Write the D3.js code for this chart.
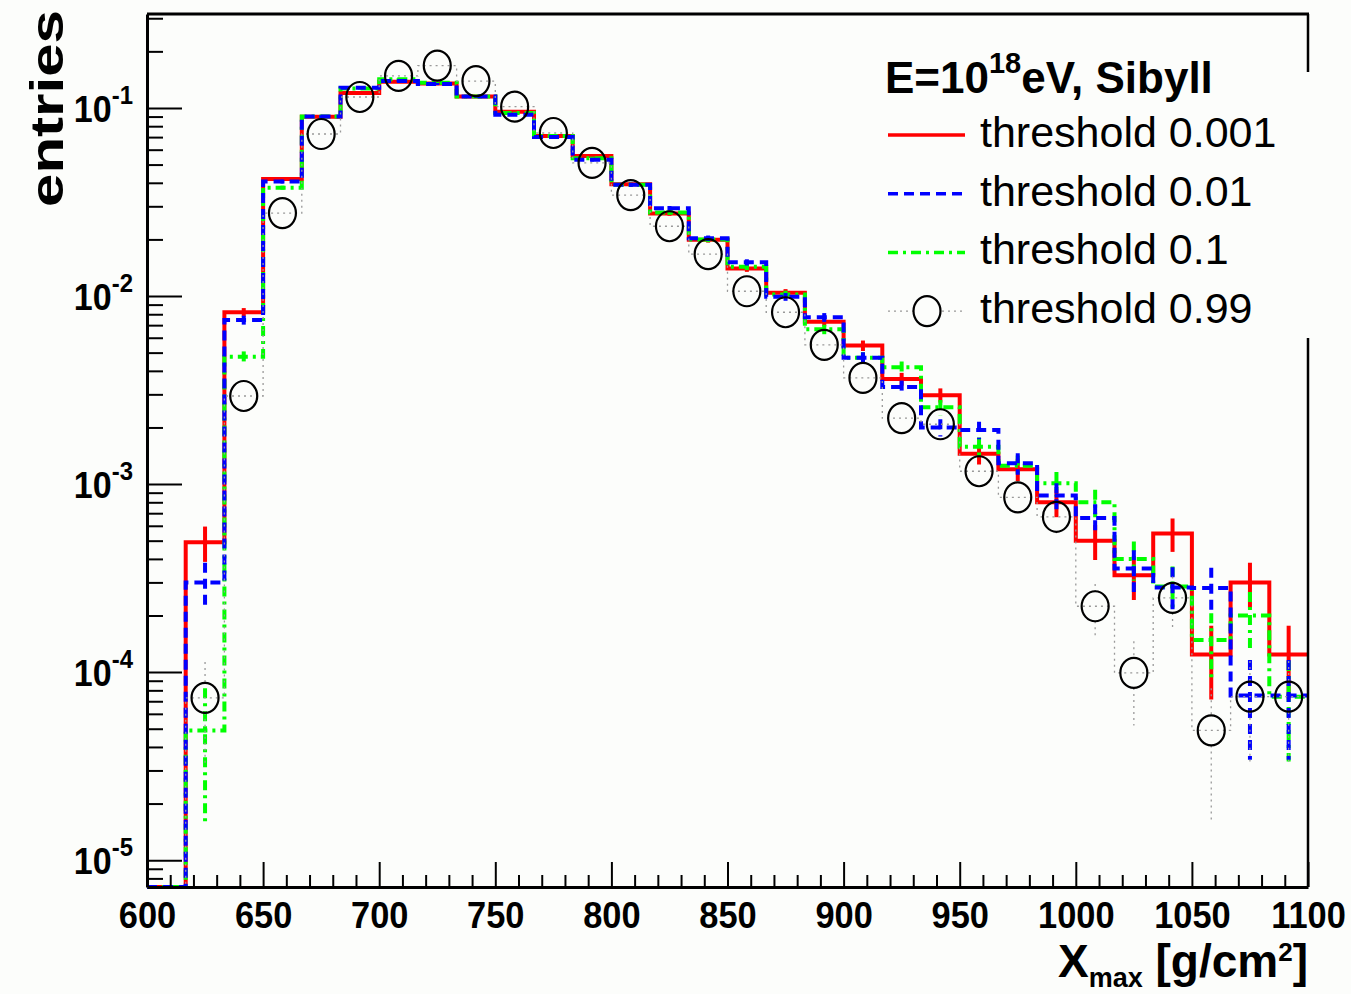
<!DOCTYPE html>
<html>
<head>
<meta charset="utf-8">
<script src="https://cdn.jsdelivr.net/npm/d3@7"></script>
<style>
body { margin: 0; background: #fcfdfb; }
svg { display: block; font-family: "Liberation Sans", Arial, Helvetica, sans-serif; }
</style>
</head>
<body>
<div id="viz"></div>
<script>
// histogram binning: 30 bins between 600 and 1100 g/cm2
const binLow = 600, binHigh = 1100, nBins = 30;
const xLabels = [600, 650, 700, 750, 800, 850, 900, 950, 1000, 1050, 1100];
const yDecades = [-5, -4, -3, -2, -1];
// normalised entries (0 = empty bin)
const thr0001 = [0, 4.9e-4, 8.2e-3, 0.0419, 0.0899, 0.120, 0.138, 0.135, 0.115, 0.0956,
  0.071, 0.0556, 0.0393, 0.0275, 0.0199, 0.0140, 0.0104, 0.0073, 0.00545, 0.00362,
  0.00297, 0.00145, 0.0012, 0.0008, 5.0e-4, 3.27e-4, 5.46e-4, 1.24e-4, 3.0e-4, 1.24e-4];
const thr001 = [0, 3.0e-4, 7.45e-3, 0.0406, 0.090, 0.128, 0.139, 0.134, 0.115, 0.092,
  0.070, 0.053, 0.039, 0.0293, 0.0203, 0.0151, 0.0099, 0.0077, 0.0047, 0.00328,
  0.0020, 0.00194, 0.00129, 0.00087, 6.6e-4, 3.56e-4, 2.82e-4, 2.8e-4, 7.5e-5, 7.5e-5];
const thr01 = [0, 4.9e-5, 4.75e-3, 0.0377, 0.090, 0.127, 0.142, 0.136, 0.115, 0.094,
  0.071, 0.054, 0.039, 0.0278, 0.020, 0.0143, 0.0102, 0.00665, 0.0047, 0.00418,
  0.00256, 0.00158, 0.00125, 0.00101, 8.0e-4, 4.0e-4, 2.85e-4, 1.48e-4, 2.0e-4, 7.4e-5];
const thr099 = [0, 7.3e-5, 2.94e-3, 0.0276, 0.0727, 0.1144, 0.148, 0.168, 0.139, 0.1016,
  0.0736, 0.051, 0.0344, 0.0235, 0.0167, 0.0106, 0.0082, 0.0055, 0.00367, 0.00224,
  0.00208, 0.00117, 8.5e-4, 6.7e-4, 2.24e-4, 9.9e-5, 2.48e-4, 4.9e-5, 7.4e-5, 7.4e-5];
const seriesNames = ["threshold 0.001", "threshold 0.01", "threshold 0.1", "threshold 0.99"];
// number of showers behind the normalisation (poisson error bars)
const nEntries = 45000;

const W = 1351, H = 994;
const frame = {left: 147, right: 1308, top: 14, bottom: 887};
const bg = "#fcfdfb";

const series = [
  {name: seriesNames[0], values: thr0001, color: "#ff0000", width: 4, dash: null},
  {name: seriesNames[2], values: thr01, color: "#00ff00", width: 4, dash: "10,5,3,5"},
  {name: seriesNames[1], values: thr001, color: "#0000ff", width: 4, dash: "10,6"},
  {name: seriesNames[3], values: thr099, color: "#999", width: 1.3, dash: "2,4", marker: true}
];

const svg = d3.select("#viz").append("svg")
  .attr("width", W).attr("height", H);
svg.append("rect").attr("width", W).attr("height", H).attr("fill", bg);

const binEdges = d3.range(nBins + 1).map(i => binLow + i * (binHigh - binLow) / nBins);

const x = d3.scaleLinear().domain([binLow, binHigh]).range([frame.left, frame.right]);
const yMin = 7.2e-6;
const y = d3.scaleLog().domain([yMin, 0.316]).range([frame.bottom, frame.top]).clamp(true);
const yv = v => y(Math.max(v, yMin));

//histogramme som trapp
const step = d3.line()
  .x(d => x(d[0]))
  .y(d => yv(d[1]))
  .curve(d3.curveStepAfter);

const plot = svg.append("g");
series.forEach(s => {
  const pts = binEdges.map((e, i) => [e, s.values[Math.min(i, nBins - 1)]]);
  const g = plot.append("g")
    .attr("fill", "none")
    .attr("stroke", s.color)
    .attr("stroke-width", s.width)
    .attr("stroke-dasharray", s.dash);
  g.append("path").attr("d", step(pts));

  const bins = s.values.map((v, i) => ({v, c: (binEdges[i] + binEdges[i + 1]) / 2}))
    .filter(d => d.v > 0);
  const ry = 15, rx = 13.5;
  bins.forEach(d => {
    const err = Math.sqrt(d.v / nEntries);
    const yTop = yv(d.v + err), yBot = yv(d.v - err), yc = yv(d.v);
    if (s.marker) {
      // errorbar stops at the marker edge
      if (yc - ry > yTop) g.append("line").attr("x1", x(d.c)).attr("x2", x(d.c)).attr("y1", yTop).attr("y2", yc - ry);
      if (yBot > yc + ry) g.append("line").attr("x1", x(d.c)).attr("x2", x(d.c)).attr("y1", yc + ry).attr("y2", yBot);
    } else {
      g.append("line").attr("x1", x(d.c)).attr("x2", x(d.c)).attr("y1", yTop).attr("y2", yBot);
    }
  });
  if (s.marker) {
    plot.selectAll(null).data(bins).join("ellipse")
      .attr("cx", d => x(d.c)).attr("cy", d => yv(d.v))
      .attr("rx", rx).attr("ry", ry)
      .attr("fill", "none").attr("stroke", "#000").attr("stroke-width", 2.2);
  }
});

// aksene
const yTickVals = [];
yDecades.concat([-6]).forEach(e => d3.range(1, 10).forEach(m => {
  const v = m * Math.pow(10, e);
  if (v >= yMin && v <= 0.316) yTickVals.push(v);
}));
const isMajor = d => Math.abs(Math.log10(d) - Math.round(Math.log10(d))) < 1e-9;

const gy = svg.append("g")
  .attr("transform", `translate(${frame.left},0)`)
  .call(d3.axisLeft(y).tickValues(yTickVals).tickSizeInner(-16).tickSizeOuter(0).tickFormat(""));
gy.selectAll(".tick line").attr("x2", d => isMajor(d) ? 35 : 16).attr("stroke-width", 2);
gy.select(".domain").attr("stroke-width", 3);

const xTickVals = d3.range(binLow, binHigh + 1, 10);
const gx = svg.append("g")
  .attr("transform", `translate(0,${frame.bottom})`)
  .call(d3.axisBottom(x).tickValues(xTickVals).tickSizeInner(-12).tickSizeOuter(0)
    .tickFormat(d => xLabels.includes(d) ? d : ""));
gx.selectAll(".tick line").attr("y2", d => d % 50 === 0 ? -25 : -12).attr("stroke-width", 2);
gx.select(".domain").attr("stroke-width", 3);
gx.selectAll(".tick text")
  .attr("y", 41).attr("dy", 0)
  .attr("transform", "scale(0.93,1)")
  .style("font-size", "37px").style("font-weight", "bold")
  .style("font-family", "'Liberation Sans', Arial, sans-serif").attr("fill", "#000");

// ramme topp og høyre
svg.append("line").attr("x1", frame.left).attr("x2", frame.right + 1)
  .attr("y1", frame.top).attr("y2", frame.top).attr("stroke", "#000").attr("stroke-width", 3);
svg.append("line").attr("x1", frame.right).attr("x2", frame.right)
  .attr("y1", frame.top).attr("y2", frame.bottom).attr("stroke", "#000").attr("stroke-width", 2.5);

// y-etiketter 10^n
yDecades.forEach(e => {
  const t = svg.append("text")
    .attr("transform", `translate(133,${y(Math.pow(10, e)) + 14}) scale(0.92,1)`)
    .attr("text-anchor", "end")
    .style("font-size", "37px").style("font-weight", "bold");
  t.append("tspan").text("10");
  t.append("tspan").attr("dy", -18).style("font-size", "26px").text(e);
});

// aksetitler
svg.append("text")
  .attr("transform", "translate(63,10) rotate(-90)")
  .attr("text-anchor", "end")
  .attr("textLength", 197).attr("lengthAdjust", "spacingAndGlyphs")
  .style("font-size", "46px").style("font-weight", "bold")
  .text("entries");

const xt = svg.append("text")
  .attr("x", frame.right).attr("y", 977)
  .attr("text-anchor", "end")
  .style("font-size", "46px").style("font-weight", "bold");
xt.append("tspan").text("X");
xt.append("tspan").attr("dy", 10).style("font-size", "27px").text("max");
xt.append("tspan").attr("dy", -10).text(" [g/cm");
xt.append("tspan").attr("dy", -16).style("font-size", "26px").text("2");
xt.append("tspan").attr("dy", 16).text("]");

// legende
svg.append("rect").attr("x", 870).attr("y", 72).attr("width", 444).attr("height", 266).attr("fill", bg);
const head = svg.append("text")
  .attr("transform", "translate(885,93)")
  .style("font-size", "44px").style("font-weight", "bold");
head.append("tspan").text("E=10");
head.append("tspan").attr("dy", -20).style("font-size", "29px").text("18");
head.append("tspan").attr("dy", 20).text("eV, Sibyll");

const legendOrder = [series[0], series[2], series[1], series[3]];
legendOrder.forEach((s, i) => {
  const yb = 147 + i * 58.7;
  const ly = yb - 12;
  svg.append("line").attr("x1", 888).attr("x2", 965).attr("y1", ly).attr("y2", ly)
    .attr("stroke", s.color).attr("stroke-width", s.marker ? 1.3 : 3.5)
    .attr("stroke-dasharray", s.dash);
  if (s.marker) {
    svg.append("ellipse").attr("cx", 927).attr("cy", ly).attr("rx", 13.5).attr("ry", 15)
      .attr("fill", bg).attr("stroke", "#000").attr("stroke-width", 2.2);
  }
  svg.append("text").attr("x", 980).attr("y", yb)
    .style("font-size", "43px").text(s.name);
});
</script>
</body>
</html>
